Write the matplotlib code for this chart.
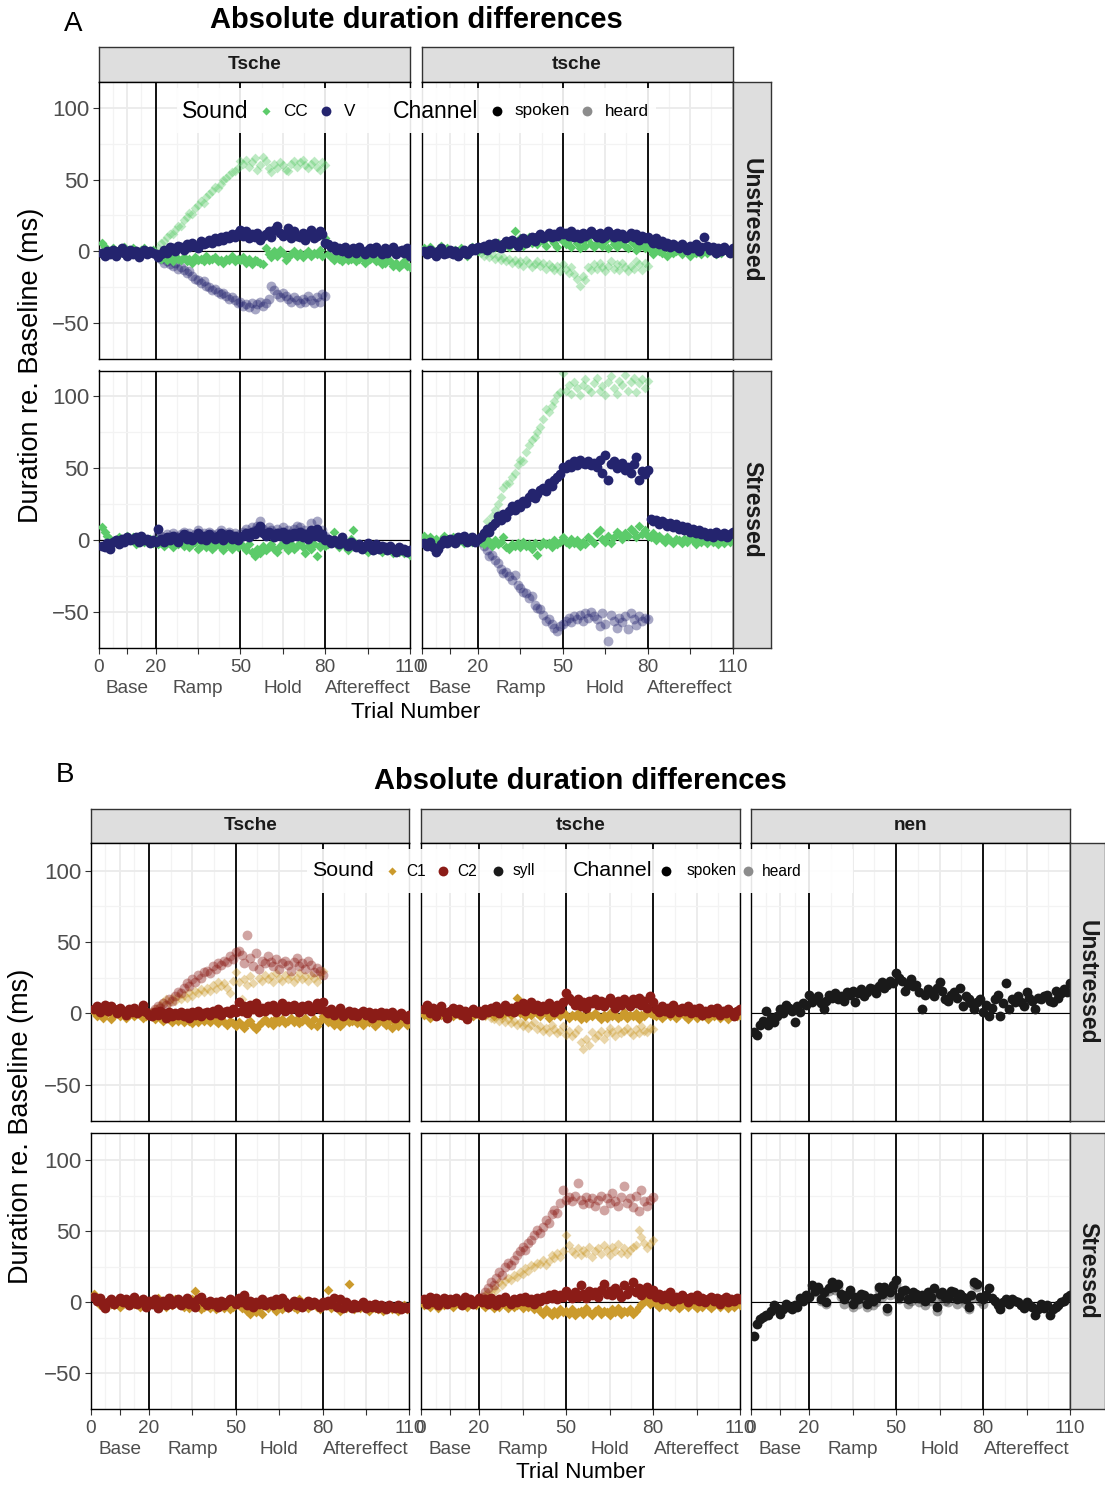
import matplotlib
matplotlib.use("Agg")
import matplotlib.pyplot as plt
from matplotlib.patches import Rectangle
import numpy as np

# ---------------------------------------------------------------------------
# Trial axis
# ---------------------------------------------------------------------------
trials = np.arange(1, 111)          # all 110 trials
shift_trials = np.arange(21, 81)    # trials with altered auditory feedback

x_breaks = [0, 10, 20, 35, 50, 65, 80, 95, 110]
x_labels = ["0", "\nBase", "20", "\nRamp", "50", "\nHold", "80", "\nAftereffect", "110"]
x_minor = [5, 15, 27.5, 42.5, 57.5, 72.5, 87.5, 102.5]
phase_bounds = [20, 50, 80]
y_breaks = [-50, 0, 50, 100]
y_minor = [-75, -25, 25, 75]

# ---------------------------------------------------------------------------
# Panel A: CC / V durations (ms re. baseline)
# ---------------------------------------------------------------------------
a_Tsche_U_CC = [6, 3, 1, -1, 2, 0, -2, 1, 3, 0,
                -1, 2, 0, -3, 1, 2, -1, 0, 1, -2,
                -3, -5, -2, -6, -4, -7, -3, -5, -6, -4,
                -7, -5, -8, -4, -6, -5, -7, -3, -6, -5,
                -4, -7, -6, -8, -5, -6, -3, -7, -5, -6,
                -4, -8, -5, -9, -6, -7, -8, -9, 2, -2,
                -4, 0, -3, 1, -1, -6, -4, -2, 0, -3,
                -1, -4, -2, 0, -3, -1, -2, 1, -3, 9,
                -2, -4, -6, -3, -5, -7, -4, -6, -5, -3,
                -7, -5, -4, -8, -6, -5, -3, -7, -6, -9,
                -8, -5, -7, -10, -8, -11, -9, -7, -10, -11]
a_Tsche_U_V = [-1, -3, 0, -2, 1, -3, 0, 2, -1, -3,
               1, -2, 0, -4, -1, 1, -2, 0, -1, -2,
               -4, -2, 1, -1, 3, 2, 0, 4, 3, 1,
               5, 3, 6, 4, 2, 7, 5, 6, 8, 6,
               9, 7, 10, 8, 11, 9, 12, 10, 13, 15,
               11, 14, 9, 12, 10, 13, 8, 11, 12, 14,
               10, 15, 18, 13, 11, 12, 16, 9, 14, 11,
               10, 13, 8, 12, 15, 9, 11, 14, 12, 6,
               5, 3, 4, 1, 2, 0, 3, -1, 1, 2,
               -1, 3, 0, -2, 1, 2, -1, 3, 0, -2,
               2, -1, 1, 3, -2, 0, 1, -1, 2, -3]
a_Tsche_U_CC_heard = [2, 6, 7, 10, 12, 12, 15, 18, 18, 22,
                      24, 27, 26, 30, 32, 35, 34, 38, 40, 42,
                      45, 44, 47, 50, 51, 53, 55, 56, 58, 63,
                      61, 64, 59, 62, 65, 57, 60, 66, 63, 58,
                      55, 61, 58, 62, 60, 57, 56, 61, 63, 59,
                      62, 64, 60, 58, 61, 63, 59, 57, 62, 60]
a_Tsche_U_V_heard = [-2, -5, -8, -7, -9, -10, -8, -12, -11, -13,
                     -15, -14, -17, -19, -20, -22, -21, -24, -25, -27,
                     -26, -28, -30, -29, -31, -33, -32, -34, -36, -35,
                     -38, -37, -39, -36, -40, -37, -35, -38, -36, -33,
                     -24, -27, -30, -32, -29, -31, -33, -35, -32, -34,
                     -36, -33, -35, -31, -34, -36, -32, -35, -30, -31]

a_tsche_U_CC = [2, -1, 3, 0, -2, 1, 4, -1, 2, 0,
                -2, 1, -1, 2, 0, -3, 1, 3, 2, 0,
                3, 1, 4, 2, 5, 3, 6, 2, 4, 7,
                3, 8, 14, 5, 9, 4, 7, 10, 6, 8,
                5, 9, 7, 4, 10, 8, 6, 3, 9, 7,
                5, 8, 3, 10, 6, 2, 7, 4, 9, 5,
                3, 6, 8, 4, 7, 2, 9, 5, 3, 6,
                8, 4, 2, 7, 5, 1, 3, 6, 2, 4,
                1, -2, 2, 0, -1, 3, -3, 1, -1, 0,
                2, -2, 0, 1, -3, 2, -1, 0, -2, 1,
                -1, 2, 0, -2, 1, -1, 2, 0, -1, 1]
a_tsche_U_V = [0, -2, 1, -1, -3, 0, 2, -2, -1, 1,
               -2, 0, -3, -1, 1, -2, 0, 2, 1, 3,
               2, 4, 1, 5, 3, 6, 4, 2, 5, 7,
               5, 8, 6, 4, 7, 9, 6, 8, 10, 7,
               10, 12, 9, 11, 13, 10, 12, 11, 14, 12,
               13, 11, 14, 10, 12, 9, 13, 11, 12, 14,
               12, 10, 13, 9, 11, 14, 12, 10, 13, 11,
               12, 9, 11, 13, 10, 12, 8, 11, 9, 10,
               8, 6, 9, 5, 7, 4, 6, 3, 5, 4,
               2, 5, 3, 1, 4, 2, 5, 0, 3, 10,
               4, 1, 3, -1, 2, 0, 3, 1, -1, 2]
a_tsche_U_CC_heard = [-1, -3, 0, -4, -2, -5, -3, -6, -4, -7,
                      -5, -8, -6, -9, -7, -10, -6, -8, -11, -9,
                      -7, -10, -8, -12, -9, -11, -13, -10, -14, -9,
                      -12, -15, -11, -16, -19, -24, -17, -20, -11, -13,
                      -9, -12, -8, -11, -14, -10, -7, -12, -9, -13,
                      -8, -11, -14, -10, -12, -7, -9, -13, -8, -10]

a_Tsche_S_CC = [9, 6, 3, 1, -2, 0, 2, -1, 1, 3,
                0, 2, -3, 1, 2, -1, 0, 1, -2, 0,
                -3, 0, -4, -2, -1, -5, -2, -3, 0, -4,
                -2, -5, -3, -1, -6, -4, -2, -5, -3, -6,
                -4, -2, -5, -7, -3, -4, -6, -2, -5, -3,
                -4, -7, -3, -8, -11, -6, -9, -4, -7, -5,
                -3, -6, -8, -4, -2, -5, -7, -3, -6, -4,
                -2, -5, -9, -4, -6, -3, -11, -5, -2, -4,
                -3, 0, 6, -2, -5, -1, -4, -7, 1, 7,
                -3, -5, -4, -6, -8, -5, -7, -6, -4, -8,
                -6, -7, -5, -9, -6, -8, -7, -9, -8, -10]
a_Tsche_S_V = [-4, -5, -2, -6, -1, 0, -3, 1, -1, 2,
               0, 1, 2, -1, 3, 0, 1, -2, 0, -1,
               8, 1, -1, 2, 0, 3, 1, -1, 2, 4,
               1, 3, 0, 2, 5, 1, 3, 0, 4, 2,
               1, 3, 5, 0, 2, 4, 1, 3, 0, 2,
               3, 5, 2, 6, 4, 7, 10, 5, 3, 6,
               4, 2, 5, 3, 6, 1, 4, 2, 5, 3,
               6, 2, 4, 1, 7, 3, 8, 2, 4, 0,
               1, -2, 0, -1, -3, 2, -2, -4, -1, -3,
               -5, -3, -6, -4, -2, -5, -7, -3, -6, -4,
               -5, -7, -4, -6, -8, -5, -7, -6, -8, -7]
a_Tsche_S_V_heard = [4, 3, 1, 4, 2, 5, 3, 2, 4, 6,
                     3, 5, 2, 4, 7, 3, 5, 2, 6, 4,
                     3, 5, 7, 2, 4, 6, 3, 5, 2, 4,
                     6, 8, 5, 9, 7, 10, 13, 8, 6, 9,
                     7, 5, 8, 6, 9, 4, 7, 5, 8, 10,
                     9, 5, 7, 4, 12, 6, 13, 5, 7, 3]

a_tsche_S_CC = [3, 0, 2, -1, 1, -2, 0, 3, 1, -1,
                2, 0, -1, 1, -2, 0, 2, -1, 1, 0,
                -1, -3, 1, -2, -4, 0, -3, -1, 2, -5,
                -6, -3, -4, -2, -5, -1, -4, -3, -6, -2,
                -10, -4, -1, -3, -2, -5, 0, -3, -1, 2,
                -1, -3, 1, -2, 0, -4, -1, -3, 2, 0,
                -2, 5, 7, 1, -1, 3, -2, 2, 6, 4,
                1, 5, 3, 8, 6, 2, 10, 4, 7, 3,
                2, 5, 0, 3, 1, -1, 2, 0, -2, 1,
                0, -2, 1, -1, 2, 0, -3, 1, -1, 0,
                -2, 1, -1, 0, -3, 1, -2, 0, -1, 1]
a_tsche_S_V = [-2, -4, -1, -5, -8, -6, -3, 0, -2, 1,
               0, -2, 2, 1, 3, -1, 0, 2, -1, 1,
               2, 5, 8, 6, 10, 12, 17, 14, 18, 16,
               20, 24, 21, 25, 23, 27, 26, 30, 33, 29,
               32, 35, 36, 34, 40, 38, 42, 44, 46, 51,
               50, 53, 51, 55, 52, 56, 54, 53, 55, 52,
               54, 51, 56, 47, 59, 42, 53, 55, 50, 52,
               54, 49, 51, 47, 53, 58, 42, 48, 46, 49,
               15, 13, 14, 11, 13, 12, 10, 12, 9, 11,
               8, 10, 7, 9, 6, 8, 5, 7, 4, 6,
               3, 5, 2, 6, 4, 3, 5, 2, 4, 6]
a_tsche_S_CC_heard = [2, 6, 13, 10, 17, 21, 25, 30, 36, 39,
                      40, 44, 47, 52, 56, 55, 61, 66, 70, 72,
                      75, 79, 84, 91, 89, 93, 97, 101, 103, 116,
                      104, 108, 102, 110, 106, 101, 108, 112, 105, 103,
                      109, 113, 104, 107, 101, 110, 114, 106, 102, 111,
                      108, 115, 104, 110, 113, 103, 109, 112, 106, 111]
a_tsche_S_V_heard = [-1, -4, -7, -11, -10, -14, -16, -20, -23, -22,
                     -25, -28, -24, -31, -33, -36, -37, -40, -39, -45,
                     -47, -48, -52, -56, -55, -58, -61, -63, -60, -58,
                     -56, -54, -57, -53, -55, -52, -56, -51, -54, -50,
                     -53, -55, -60, -51, -58, -70, -52, -56, -61, -54,
                     -57, -53, -62, -51, -55, -59, -53, -56, -54, -55]

# ---------------------------------------------------------------------------
# Panel B: C1 / C2 / syllable durations (ms re. baseline)
# ---------------------------------------------------------------------------
b_Tsche_U_C1 = [1, -2, 0, -3, -1, 2, -4, -1, 0, -2,
                1, -3, -1, 0, -2, 1, -1, -3, -2, 0,
                -2, -4, -1, -3, -5, -2, -4, -6, -3, -5,
                -4, -6, -3, -5, -7, -4, -6, -3, -5, -4,
                -6, -3, -5, -7, -4, -6, -8, -5, -7, -9,
                -6, -8, -10, -7, -5, -9, -11, -8, -6, -4,
                -7, -5, -8, -3, -6, -4, -7, -5, -3, -6,
                -4, -7, -5, -3, -6, -8, -4, -9, -5, -2,
                -4, -6, -3, -8, -5, -9, -7, -4, -6, -5,
                -3, -7, -5, -8, -4, -6, -5, -9, -7, -4,
                -6, -8, -5, -10, -7, -9, -6, -5, -8, -7]
b_Tsche_U_C2 = [3, 5, 1, 4, 6, 2, 5, 3, 0, 4,
                2, -1, 3, 1, 4, 0, 2, 6, 1, -1,
                -2, 1, -1, 2, 0, -3, 1, -2, 0, -1,
                1, -2, 0, -3, 1, -1, 2, -2, 0, 1,
                -1, 2, 0, 3, -1, 1, 2, 0, 3, 1,
                8, 2, 5, 0, 6, 3, 7, 1, 4, 2,
                5, 3, 6, 1, 4, 7, 2, 5, 3, 6,
                4, 1, 5, 3, 6, 2, 4, 7, 3, 8,
                2, 0, 3, -1, 1, 4, -2, 0, 2, -1,
                1, -2, 0, 2, -1, 1, -3, 0, -1, 1,
                -2, 0, -1, 1, -3, -1, 0, -2, -4, -1]
b_Tsche_U_C1_heard = [1, 3, 2, 6, 8, 10, 7, 11, 9, 12,
                      10, 13, 11, 15, 12, 16, 14, 17, 15, 18,
                      16, 20, 17, 22, 19, 21, 18, 14, 23, 29,
                      22, 10, 24, 20, 26, 21, 8, 25, 23, 27,
                      24, 26, 22, 28, 25, 23, 27, 24, 26, 22,
                      25, 28, 24, 26, 23, 27, 25, 22, 26, 30]
b_Tsche_U_C2_heard = [1, 3, 5, 4, 7, 6, 10, 9, 12, 15,
                      14, 18, 21, 19, 24, 22, 27, 25, 29, 30,
                      28, 33, 31, 35, 34, 37, 36, 40, 38, 43,
                      44, 41, 35, 55, 39, 33, 42, 31, 37, 35,
                      40, 36, 33, 38, 31, 35, 37, 34, 30, 36,
                      39, 33, 35, 31, 37, 34, 29, 32, 30, 27]

b_tsche_U_C1 = [-1, 1, -3, 0, -2, 2, -1, 0, -3, 1,
                -2, 0, -1, 2, -3, 0, 1, -2, 0, -1,
                1, -1, 2, 0, -2, 1, 3, -1, 0, 2,
                -1, 1, 11, 0, 2, -2, 1, -1, 3, 0,
                -2, 1, 0, -3, 2, -1, 0, -2, 1, -1,
                -3, -1, -2, 0, -4, -2, -3, -1, -2, 0,
                -2, -4, -1, -3, 0, -2, -1, -3, -2, 1,
                -3, -1, -2, 0, -4, -1, -2, 2, 0, -1,
                -2, 0, -3, -1, 1, -2, 0, -3, -1, 0,
                -2, -4, -1, 0, -3, -1, -2, 0, -4, -1,
                -2, 0, -3, -1, -2, -4, -1, 0, -2, -1]
b_tsche_U_C2 = [3, 6, 0, 4, -2, 2, 5, 1, -3, 2,
                4, 0, 3, -1, 2, -4, 1, 3, 0, 2,
                -1, 3, 1, 4, 2, 5, 0, 3, 6, 2,
                4, 1, 5, 3, 7, 2, 4, 8, 3, 6,
                2, 5, 3, 7, 4, 1, 6, 3, 8, 14,
                11, 9, 6, 10, 5, 8, 4, 9, 7, 10,
                6, 9, 5, 8, 11, 7, 4, 9, 6, 10,
                8, 5, 10, 7, 11, 6, 9, 4, 12, 8,
                3, 1, 5, 2, 4, 0, 6, 3, 1, 4,
                2, 5, 0, 3, 1, 4, -1, 2, 0, 3,
                1, 4, -1, 2, 0, 3, 1, -2, 2, 3]
b_tsche_U_C1_heard = [-1, -2, 0, -3, -4, -2, -5, -3, -6, -4,
                      -7, -5, -8, -6, -9, -7, -10, -8, -6, -11,
                      -9, -12, -10, -13, -8, -11, -14, -12, -9, -15,
                      -12, -16, -14, -11, -20, -25, -18, -22, -13, -17,
                      -15, -12, -18, -14, -10, -13, -16, -11, -14, -12,
                      -10, -13, -15, -11, -14, -9, -12, -13, -10, -11]

b_nen_U_syll = [-13, -15, -8, -5, 2, -8, -3, -6, -2, 3,
                0, 6, 4, 2, -6, 5, 1, 7, 6, 13,
                8, 10, 12, 7, 3, 9, 13, 11, 14, 10,
                12, 9, 15, 13, 16, 8, 14, 17, 12, 15,
                18, 17, 14, 19, 22, 18, 20, 23, 21, 28,
                25, 23, 16, 20, 24, 19, 20, 15, 3, 13,
                17, 15, 12, 18, 22, 16, 10, 9, 13, 15,
                11, 18, 5, 12, 10, 7, 3, 8, 10, 1,
                6, -2, 4, 10, 13, -2, 7, 21, 3, 10,
                8, 12, 8, 5, 15, 11, 9, 3, 11, 10,
                12, 13, 9, 8, 16, 11, 14, 17, 15, 21]

b_Tsche_S_C1 = [6, 2, -2, 0, -3, 1, -1, -2, 0, -3,
                -1, 1, -2, 0, -1, 2, -3, 0, -1, -2,
                1, -2, 3, -1, 0, -3, 1, -2, 2, -1,
                0, -3, -1, -4, 2, 8, -2, -5, -3, -1,
                -4, -2, -5, -3, -1, -4, -2, -5, -3, -1,
                -2, -4, -1, -6, -8, -3, -7, -5, -8, -2,
                -4, -1, -3, -6, -2, -5, 1, -4, -2, -3,
                -5, 2, -3, -1, -4, -2, 0, -3, -5, -1,
                -2, 9, -4, -1, -3, -6, -2, -4, 13, -3,
                -5, -2, -4, -1, -3, -6, -2, -4, -5, -3,
                -6, -4, -2, -5, -3, -6, -4, -2, -5, -3]
b_Tsche_S_C2 = [4, 1, 3, -2, -4, 0, 2, -1, 1, 3,
                0, 2, -2, 1, 4, -1, 0, 2, -3, 1,
                -1, 2, -4, 0, 1, -2, 3, -1, 0, 2,
                -2, 1, 3, -1, 0, -3, 2, 4, 0, -2,
                1, -1, 0, -3, 1, -2, 0, 2, 1, -1,
                3, 0, 5, -2, 1, -3, 0, -1, 2, -2,
                0, 1, -2, 2, -1, 3, 0, -3, -1, 1,
                -2, 0, -3, -1, 1, -2, 0, -1, -3, 0,
                -2, 1, -1, 3, -3, 2, -4, 0, -2, -4,
                -1, -3, -2, 0, -4, -2, -3, -1, -4, -2,
                -3, -5, -2, -3, -4, -2, -5, -3, -4, -3]

b_tsche_S_C1 = [-2, 0, -3, 1, -1, -4, 0, -2, 2, -1,
                -3, 0, -1, -2, 1, -3, 0, -1, -2, 0,
                -1, -3, 0, -2, -4, -1, -3, 0, -2, -4,
                -1, -3, -2, 0, -4, -2, -3, -1, -5, -3,
                -6, -8, -5, -7, -9, -6, -8, -5, -7, -6,
                -8, -5, -9, -7, -6, -8, -4, -7, -9, -6,
                -5, -8, -6, -7, -9, -5, -7, -4, -8, -6,
                -7, -5, -8, -6, -3, -1, 0, 2, -1, 1,
                -1, -3, 0, -2, 1, -3, -1, 0, -4, -2,
                -1, -3, 0, -2, -4, -1, -3, 0, -2, -4,
                -2, 0, -3, -1, -2, -4, -1, -3, 0, -2]
b_tsche_S_C2 = [2, -1, 4, 0, 3, -2, 1, 3, -1, 2,
                0, 3, 1, -2, 4, 0, 2, -1, 1, 3,
                0, 2, -1, 3, 1, -2, 2, 0, 4, 1,
                -1, 2, 0, 3, 1, 4, 0, 2, -1, 3,
                1, 4, 2, 5, 3, 6, 2, 5, 4, 8,
                5, 3, 7, 4, 12, 6, 3, 8, 5, 7,
                4, 9, 13, 6, 8, 5, 10, 7, 4, 12,
                6, 9, 14, 7, 10, 5, 8, 11, 6, 9,
                4, 6, 2, 5, 3, 7, 1, 4, 2, 5,
                3, 0, 4, 2, 5, 1, 3, 0, 2, 4,
                1, 3, -1, 2, 4, 0, 2, 1, 3, 2]
b_tsche_S_C1_heard = [3, 5, 7, 6, 10, 9, 14, 12, 15, 17,
                      16, 19, 18, 21, 20, 24, 22, 26, 25, 28,
                      27, 30, 26, 29, 33, 31, 35, 32, 36, 47,
                      40, 36, 34, 38, 33, 37, 35, 39, 32, 36,
                      38, 34, 40, 37, 33, 39, 36, 41, 35, 38,
                      34, 37, 39, 40, 51, 46, 42, 38, 41, 44]
b_tsche_S_C2_heard = [4, 7, 10, 14, 12, 17, 21, 19, 25, 28,
                      26, 30, 33, 36, 39, 37, 42, 44, 47, 51,
                      49, 53, 58, 56, 62, 65, 63, 70, 79, 72,
                      74, 71, 75, 84, 72, 69, 74, 70, 73, 68,
                      72, 75, 65, 73, 70, 77, 71, 68, 74, 82,
                      70, 73, 67, 75, 64, 79, 71, 68, 72, 74]

b_nen_S_syll = [-24, -15, -12, -10, -9, -9, -6, -2, -4, -8,
                -5, -1, -3, -5, -2, -3, 3, 1, 5, 4,
                12, 8, 11, 2, 7, 0, 10, 14, 11, 13,
                6, 2, 5, 9, -1, 4, 2, 6, 5, -1,
                3, 1, 3, 11, 6, 11, -4, 7, 12, 16,
                4, 8, 9, 2, 3, 7, 6, 3, 5, 1,
                7, 4, 10, -3, 6, 7, 4, 3, 8, 7,
                2, 6, 4, 2, -3, 5, 14, 13, 4, 2,
                5, 10, 3, 1, -2, -5, 0, 2, -1, 2,
                1, 0, -2, -4, 0, -2, -3, -9, -5, -1,
                -4, -2, -9, -5, -3, -2, 0, 1, 4, 5]
b_nen_S_syll_heard = [10, 7, 9, 1, 5, -1, 8, 12, 9, 11,
                      4, -1, 2, 7, -3, 1, -1, 3, 2, -3,
                      1, -2, 0, 9, 4, 8, -6, 5, 10, 13,
                      2, 5, 7, -1, 1, 4, 3, 0, 2, -2,
                      5, 1, 7, -6, 3, 4, 1, 0, 5, 4,
                      -1, 3, 2, -1, -5, 2, 12, 11, 1, -1]

# ---------------------------------------------------------------------------
# Styling
# ---------------------------------------------------------------------------
plt.rcParams['font.family'] = ['Liberation Sans', 'DejaVu Sans']

sound_color = {"CC": "#5CCB6A", "V": "#24246E",
               "C1": "#CB9A2C", "C2": "#8B1C17", "syll": "#1A1A1A"}
sound_marker = {"CC": "D", "V": "o", "C1": "D", "C2": "o", "syll": "o"}
marker_size = {"D": 25, "o": 50}
heard_alpha = 0.4
tick_grey = "#4D4D4D"

W, H = 1105, 1485
fig = plt.figure(figsize=(W / 100, H / 100), dpi=100)


def px_rect(x0, y0, x1, y1):
    return [x0 / W, 1 - y1 / H, (x1 - x0) / W, (y1 - y0) / H]


def ftext(x, y, s, **kw):
    return fig.text(x / W, 1 - y / H, s, **kw)


def draw_facet(ax, layers, ylim, left, bottom, ytick_fs, xtick_fs):
    ax.set_xlim(0, 110)
    ax.set_ylim(*ylim)
    ax.set_xticks(x_breaks)
    ax.set_xticks(x_minor, minor=True)
    ax.set_yticks(y_breaks)
    ax.set_yticks(y_minor, minor=True)
    ax.grid(which="major", color="#EBEBEB", lw=1.3)
    ax.grid(which="minor", color="#F3F3F3", lw=0.9)
    ax.set_axisbelow(True)
    ax.axhline(0, color="black", lw=0.8, zorder=1.2)
    for b in phase_bounds:
        ax.axvline(b, color="black", lw=1.3, zorder=1.3)
    # heard (fed-back) values first, spoken on top
    for vals, xs, sound, channel in layers:
        mk = sound_marker[sound]
        ax.scatter(xs, vals, marker=mk, s=marker_size[mk],
                   color=sound_color[sound],
                   alpha=heard_alpha if channel == "heard" else 1.0,
                   linewidths=0, zorder=2 if channel == "heard" else 3)
    ax.tick_params(which="minor", length=0)
    if bottom:
        ax.set_xticklabels(x_labels, fontsize=xtick_fs, color=tick_grey,
                           linespacing=1.27)
        ax.tick_params(axis="x", which="major", length=4, width=0.8,
                       color="#333333", pad=4.2)
    else:
        ax.tick_params(axis="x", which="major", length=0, labelbottom=False)
    if left:
        ax.set_yticklabels([str(v).replace("-", "\u2212") for v in y_breaks],
                           fontsize=ytick_fs, color=tick_grey)
        ax.tick_params(axis="y", which="major", length=4, width=0.8,
                       color="#333333", pad=3)
    else:
        ax.tick_params(axis="y", which="major", length=0, labelleft=False)
    for sp in ax.spines.values():
        sp.set_color("black")
        sp.set_linewidth(1.0)


def strip(rect, label, fs, rotation=0):
    sax = fig.add_axes(rect)
    sax.set_facecolor("#DEDEDE")
    sax.set_xticks([])
    sax.set_yticks([])
    for sp in sax.spines.values():
        sp.set_color("#333333")
        sp.set_linewidth(1.0)
    sax.text(0.5, 0.5, label, transform=sax.transAxes, ha="center",
             va="center", fontsize=fs, fontweight="bold", rotation=rotation,
             color="#1A1A1A")


# ---------------------------------------------------------------------------
# Panel A
# ---------------------------------------------------------------------------
a_cols = [(99, 410), (421.5, 732.5)]
a_rows = [(82, 359), (370.5, 648)]
a_words = ["Tsche", "tsche"]
a_stress = ["Unstressed", "Stressed"]
a_layers = {
    ("Tsche", "Unstressed"): [
        (a_Tsche_U_CC_heard, shift_trials, "CC", "heard"),
        (a_Tsche_U_V_heard, shift_trials, "V", "heard"),
        (a_Tsche_U_CC, trials, "CC", "spoken"),
        (a_Tsche_U_V, trials, "V", "spoken")],
    ("tsche", "Unstressed"): [
        (a_tsche_U_CC_heard, shift_trials, "CC", "heard"),
        (a_tsche_U_CC, trials, "CC", "spoken"),
        (a_tsche_U_V, trials, "V", "spoken")],
    ("Tsche", "Stressed"): [
        (a_Tsche_S_V_heard, shift_trials, "V", "heard"),
        (a_Tsche_S_CC, trials, "CC", "spoken"),
        (a_Tsche_S_V, trials, "V", "spoken")],
    ("tsche", "Stressed"): [
        (a_tsche_S_CC_heard, shift_trials, "CC", "heard"),
        (a_tsche_S_V_heard, shift_trials, "V", "heard"),
        (a_tsche_S_CC, trials, "CC", "spoken"),
        (a_tsche_S_V, trials, "V", "spoken")],
}
for ci, (x0, x1) in enumerate(a_cols):
    strip(px_rect(x0, 47, x1, 82), a_words[ci], 13.7)
    for ri, (y0, y1) in enumerate(a_rows):
        ax = fig.add_axes(px_rect(x0, y0, x1, y1))
        draw_facet(ax, a_layers[(a_words[ci], a_stress[ri])], (-73.2, 118),
                   left=(ci == 0), bottom=(ri == 1), ytick_fs=16, xtick_fs=13.7)
for ri, (y0, y1) in enumerate(a_rows):
    strip(px_rect(732.5, y0, 770.5, y1), a_stress[ri], 16.5, rotation=-90)

ftext(73, 24, "A", fontsize=20, ha="center", va="center")
ftext(416, 20, "Absolute duration differences", fontsize=21,
      fontweight="bold", ha="center", va="center")
ftext(31, 365, "Duration re. Baseline (ms)", fontsize=19.5, rotation=90,
      ha="center", va="center")
ftext(416, 712, "Trial Number", fontsize=16.2, ha="center", va="center")

# ---------------------------------------------------------------------------
# Panel B
# ---------------------------------------------------------------------------
b_cols = [(91, 409.5), (421, 740), (751, 1070)]
b_rows = [(843, 1120.5), (1132.5, 1409)]
b_words = ["Tsche", "tsche", "nen"]
b_stress = ["Unstressed", "Stressed"]
b_layers = {
    ("Tsche", "Unstressed"): [
        (b_Tsche_U_C1_heard, shift_trials, "C1", "heard"),
        (b_Tsche_U_C2_heard, shift_trials, "C2", "heard"),
        (b_Tsche_U_C1, trials, "C1", "spoken"),
        (b_Tsche_U_C2, trials, "C2", "spoken")],
    ("tsche", "Unstressed"): [
        (b_tsche_U_C1_heard, shift_trials, "C1", "heard"),
        (b_tsche_U_C1, trials, "C1", "spoken"),
        (b_tsche_U_C2, trials, "C2", "spoken")],
    ("nen", "Unstressed"): [
        (b_nen_U_syll, trials, "syll", "spoken")],
    ("Tsche", "Stressed"): [
        (b_Tsche_S_C1, trials, "C1", "spoken"),
        (b_Tsche_S_C2, trials, "C2", "spoken")],
    ("tsche", "Stressed"): [
        (b_tsche_S_C1_heard, shift_trials, "C1", "heard"),
        (b_tsche_S_C2_heard, shift_trials, "C2", "heard"),
        (b_tsche_S_C1, trials, "C1", "spoken"),
        (b_tsche_S_C2, trials, "C2", "spoken")],
    ("nen", "Stressed"): [
        (b_nen_S_syll_heard, shift_trials, "syll", "heard"),
        (b_nen_S_syll, trials, "syll", "spoken")],
}
for ci, (x0, x1) in enumerate(b_cols):
    strip(px_rect(x0, 809, x1, 843), b_words[ci], 13.7)
    for ri, (y0, y1) in enumerate(b_rows):
        ax = fig.add_axes(px_rect(x0, y0, x1, y1))
        draw_facet(ax, b_layers[(b_words[ci], b_stress[ri])], (-73.2, 119.4),
                   left=(ci == 0), bottom=(ri == 1), ytick_fs=16, xtick_fs=13.7)
for ri, (y0, y1) in enumerate(b_rows):
    strip(px_rect(1070, y0, 1105, y1), b_stress[ri], 16.5, rotation=-90)

ftext(65, 775, "B", fontsize=20, ha="center", va="center")
ftext(580.5, 781, "Absolute duration differences", fontsize=21,
      fontweight="bold", ha="center", va="center")
ftext(21, 1126, "Duration re. Baseline (ms)", fontsize=19.5, rotation=90,
      ha="center", va="center")
ftext(580.5, 1473, "Trial Number", fontsize=16.2, ha="center", va="center")

# ---------------------------------------------------------------------------
# In-panel legends (pixel coordinates on a transparent overlay)
# ---------------------------------------------------------------------------
ov = fig.add_axes([0, 0, 1, 1])
ov.set_xlim(0, W)
ov.set_ylim(H, 0)
ov.axis("off")
ov.set_zorder(20)
ov.patch.set_alpha(0)


def legend_row(box, yc, items, title_fs, item_fs):
    bx0, bx1, by0, by1 = box
    ov.add_patch(Rectangle((bx0, by0), bx1 - bx0, by1 - by0,
                           facecolor="white", alpha=0.9, edgecolor="none"))
    for kind, x, payload in items:
        if kind == "title":
            ov.text(x, yc, payload, fontsize=title_fs, ha="left",
                    va="center", color="black")
        elif kind == "label":
            ov.text(x, yc, payload, fontsize=item_fs, ha="left",
                    va="center", color="black")
        else:
            mk, col = payload
            ov.scatter([x], [yc], marker=mk, s=17 if mk == "D" else 50,
                       color=col, linewidths=0)


legend_row((177, 656, 88, 133), 111,
           [("title", 182, "Sound"),
            ("key", 266, ("D", sound_color["CC"])),
            ("label", 283, "CC"),
            ("key", 326, ("o", sound_color["V"])),
            ("label", 344, "V"),
            ("title", 393, "Channel"),
            ("key", 497, ("o", "black")),
            ("label", 514, "spoken"),
            ("key", 587, ("o", "#8C8C8C")),
            ("label", 605, "heard")],
           16.6, 12.3)

legend_row((307, 853, 849, 893), 871,
           [("title", 312, "Sound"),
            ("key", 392, ("D", sound_color["C1"])),
            ("label", 406, "C1"),
            ("key", 443, ("o", sound_color["C2"])),
            ("label", 457, "C2"),
            ("key", 498, ("o", sound_color["syll"])),
            ("label", 513, "syll"),
            ("title", 573, "Channel"),
            ("key", 666, ("o", "black")),
            ("label", 687, "spoken"),
            ("key", 748, ("o", "#8C8C8C")),
            ("label", 762, "heard")],
           15.4, 11.2)

fig.savefig("out.png", dpi=100)
